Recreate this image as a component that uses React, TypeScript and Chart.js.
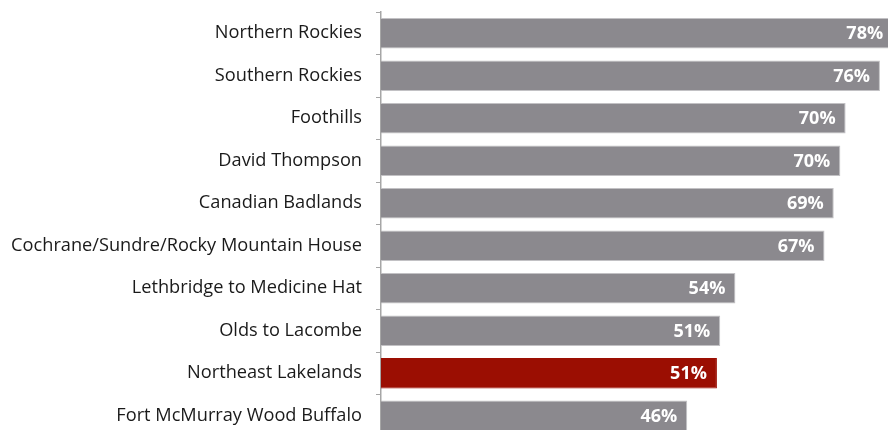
import React, { useEffect, useRef } from "react";
import { Chart, registerables } from "chart.js";

Chart.register(...registerables);

const categories = [
  "Northern Rockies",
  "Southern Rockies",
  "Foothills",
  "David Thompson",
  "Canadian Badlands",
  "Cochrane/Sundre/Rocky Mountain House",
  "Lethbridge to Medicine Hat",
  "Olds to Lacombe",
  "Northeast Lakelands",
  "Fort McMurray Wood Buffalo",
];

const values = [77.6, 75.6, 70.4, 69.6, 68.6, 67.2, 53.7, 51.4, 50.9, 46.4];

const highlighted = ["Northeast Lakelands"];

const GREY = "#8b898e";
const GREY_EDGE = "#c2c1c4";
const RED = "#9b0e02";

const valueLabels = {
  id: "valueLabels",
  afterDatasetsDraw(chart: any) {
    const ctx = chart.ctx;
    const meta = chart.getDatasetMeta(0);
    ctx.save();
    ctx.font = "bold 18px 'Open Sans'";
    ctx.fillStyle = "#ffffff";
    ctx.textAlign = "right";
    ctx.textBaseline = "middle";
    meta.data.forEach((el: any, i: number) => {
      const v = chart.data.datasets[0].data[i] as number;
      ctx.fillText(Math.round(v) + "%", el.x - 10, el.y + 1);
    });
    ctx.restore();
  },
};

export default function App() {
  const ref = useRef<HTMLCanvasElement | null>(null);

  useEffect(() => {
    if (!ref.current) return;
    const chart = new Chart(ref.current, {
      type: "bar",
      data: {
        labels: categories,
        datasets: [
          {
            data: values,
            backgroundColor: categories.map((c) => (highlighted.includes(c) ? RED : GREY)),
            borderColor: categories.map((c) => (highlighted.includes(c) ? RED : GREY_EDGE)),
            borderWidth: 1,
            barPercentage: 0.72,
            categoryPercentage: 1,
          },
        ],
      },
      options: {
        indexAxis: "y",
        animation: false,
        responsive: true,
        maintainAspectRatio: false,
        layout: { padding: { top: 12, left: 0, right: 0, bottom: 0 } },
        plugins: {
          legend: { display: false },
          tooltip: { enabled: false },
        },
        scales: {
          x: {
            display: false,
            min: 0,
            max: 78.64,
          },
          y: {
            type: "category",
            afterFit: (scale: any) => {
              scale.width = 381;
              scale.paddingTop = 0;
              scale.paddingBottom = 0;
            },
            grid: {
              drawOnChartArea: false,
              drawTicks: true,
              tickLength: 5,
              color: "#a6a6a6",
              offset: true,
            },
            border: { color: "#a6a6a6", width: 1.5 },
            ticks: {
              color: "#1a1a1a",
              padding: 14,
              font: { family: "'Open Sans'", size: 18.2 },
            },
          },
        },
      },
      plugins: [valueLabels],
    });
    return () => chart.destroy();
  }, []);

  return (
    <div
      style={{
        position: "fixed",
        left: 0,
        top: 0,
        width: 888,
        height: 430,
        overflow: "hidden",
        background: "#ffffff",
      }}
    >
      <div style={{ position: "relative", width: 900, height: 437 }}>
        <canvas ref={ref} />
      </div>
    </div>
  );
}
